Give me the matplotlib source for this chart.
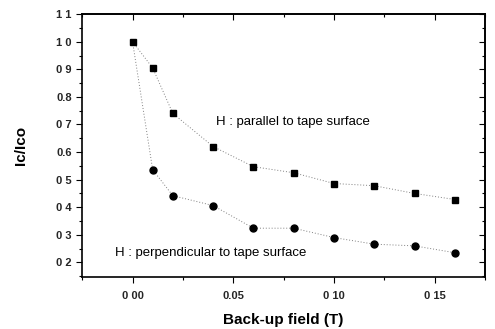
import numpy as np
import matplotlib
matplotlib.use("Agg")
import matplotlib.pyplot as plt
from matplotlib.ticker import MultipleLocator

plt.rcParams["font.family"] = ["Liberation Sans", "DejaVu Sans"]

# Back-up field (T) and normalised critical current Ic/Ico
field = [0.00, 0.01, 0.02, 0.04, 0.06, 0.08, 0.10, 0.12, 0.14, 0.16]
ic_parallel = [1.00, 0.905, 0.74, 0.62, 0.547, 0.525, 0.486, 0.478, 0.45, 0.428]
ic_perpendicular = [1.00, 0.536, 0.442, 0.406, 0.324, 0.324, 0.29, 0.266, 0.26, 0.235]

x_ticks = [0.00, 0.05, 0.10, 0.15]
x_tick_labels = ["0 00", "0.05", "0 10", "0 15"]
y_ticks = [0.2, 0.3, 0.4, 0.5, 0.6, 0.7, 0.8, 0.9, 1.0, 1.1]
y_tick_labels = ["0 2", "0 3", "0 4", "0 5", "0.6", "0 7", "0.8", "0 9", "1 0", "1 1"]

fig = plt.figure(figsize=(4.95, 3.29), dpi=100)
ax = fig.add_axes([0.166, 0.158, 0.814, 0.799])

# dotted guide lines, then markers
line_kw = dict(linestyle=(0, (1, 2)), color="0.5", linewidth=0.7)
ax.plot(field, ic_parallel, **line_kw)
ax.plot(field, ic_perpendicular, **line_kw)
ax.plot(field, ic_parallel, linestyle="none", marker="s", markersize=5, color="black")
ax.plot(field[1:], ic_perpendicular[1:], linestyle="none", marker="o",
        markersize=5, color="black")

ax.set_xlim(-0.025, 0.175)
ax.set_ylim(0.147, 1.1)
ax.set_xticks(x_ticks)
ax.set_xticklabels(x_tick_labels)
ax.set_yticks(y_ticks)
ax.set_yticklabels(y_tick_labels)
ax.xaxis.set_minor_locator(MultipleLocator(0.025))
ax.yaxis.set_minor_locator(MultipleLocator(0.05))

ax.tick_params(axis="both", which="both", labelsize=8, width=0.8, direction="out")
ax.tick_params(axis="both", which="major", length=4)
ax.tick_params(axis="both", which="minor", length=2)
ax.tick_params(axis="x", which="major", pad=6)
for lbl in ax.get_xticklabels() + ax.get_yticklabels():
    lbl.set_fontweight("bold")
    lbl.set_color("0.15")

# inward ticks on top and right
top = ax.secondary_xaxis("top")
top.set_xticks(x_ticks)
top.xaxis.set_minor_locator(MultipleLocator(0.025))
top.tick_params(which="both", direction="in", labeltop=False, width=0.8)
top.tick_params(which="major", length=4)
top.tick_params(which="minor", length=2)
right = ax.secondary_yaxis("right")
right.set_yticks(y_ticks)
right.yaxis.set_minor_locator(MultipleLocator(0.05))
right.tick_params(which="both", direction="in", labelright=False, width=0.8)
right.tick_params(which="major", length=4)
right.tick_params(which="minor", length=2)

for spine in list(ax.spines.values()) + [top.spines["top"], right.spines["right"]]:
    spine.set_linewidth(1.2)

ax.text(0.0415, 0.698, "H : parallel to tape surface", fontsize=9.5)
ax.text(-0.0085, 0.225, "H : perpendicular to tape surface", fontsize=9.5)

ax.set_xlabel("Back-up field (T)", fontsize=11, fontweight="bold", labelpad=9)
ax.set_ylabel("Ic/Ico", fontsize=11, fontweight="bold", labelpad=20)

fig.savefig("out.png", dpi=100)
